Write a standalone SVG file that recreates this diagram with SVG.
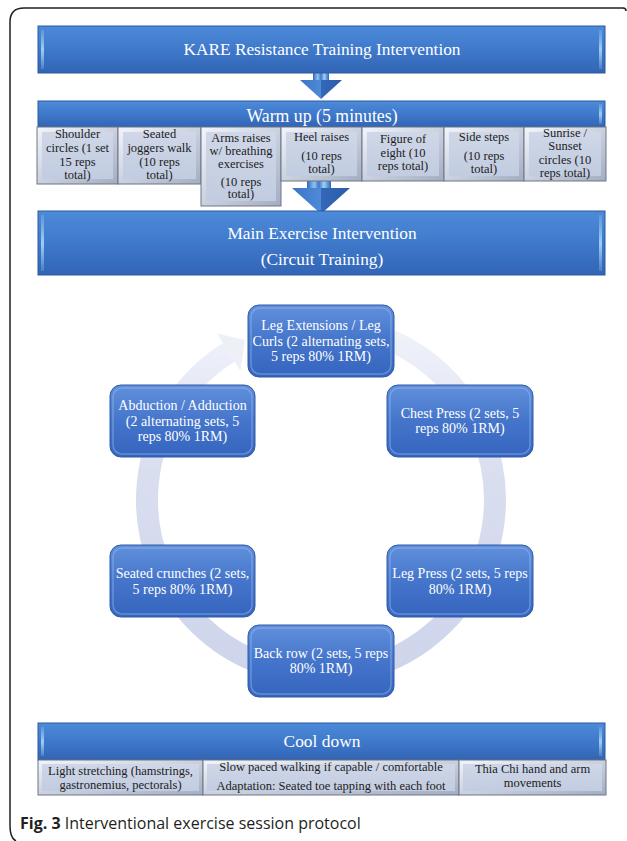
<svg xmlns="http://www.w3.org/2000/svg" width="627" height="841" viewBox="0 0 627 841">
<defs>
<linearGradient id="band" x1="0" y1="0" x2="0" y2="1">
<stop offset="0" stop-color="#4d8ad9"/><stop offset="0.5" stop-color="#3f79cb"/><stop offset="1" stop-color="#3264b4"/>
</linearGradient>
<linearGradient id="strip" x1="0" y1="0" x2="0" y2="1">
<stop offset="0" stop-color="#a8d8f8" stop-opacity="0.2"/><stop offset="0.5" stop-color="#a8d8f8" stop-opacity="0.9"/><stop offset="1" stop-color="#a8d8f8" stop-opacity="0.2"/>
</linearGradient>
<linearGradient id="node" x1="0" y1="0" x2="0" y2="1">
<stop offset="0" stop-color="#6190dc"/><stop offset="0.5" stop-color="#4575cb"/><stop offset="1" stop-color="#3464bd"/>
</linearGradient>
<linearGradient id="subOut" x1="0" y1="0" x2="1" y2="1">
<stop offset="0" stop-color="#f3f5fa"/><stop offset="1" stop-color="#a3adc2"/>
</linearGradient>
<linearGradient id="subIn" x1="0" y1="0" x2="0" y2="1">
<stop offset="0" stop-color="#cfd7e8"/><stop offset="1" stop-color="#c2cce0"/>
</linearGradient>
<linearGradient id="ring" gradientUnits="userSpaceOnUse" x1="230" y1="690" x2="235" y2="330">
<stop offset="0" stop-color="#cdd3ea"/><stop offset="0.6" stop-color="#d9deef"/><stop offset="1" stop-color="#f0f2fa"/>
</linearGradient>
<linearGradient id="arrow" x1="0" y1="0" x2="1" y2="0">
<stop offset="0" stop-color="#3b74c6"/><stop offset="0.5" stop-color="#4f8ad8"/><stop offset="0.5" stop-color="#3468b8"/><stop offset="1" stop-color="#2a5ca9"/>
</linearGradient>
<linearGradient id="shaft" x1="0" y1="0" x2="1" y2="0">
<stop offset="0" stop-color="#2f66b8"/><stop offset="0.3" stop-color="#8cc4f2"/><stop offset="0.5" stop-color="#3c78c8"/><stop offset="0.7" stop-color="#9fd0f6"/><stop offset="1" stop-color="#2f66b8"/>
</linearGradient>
<style>
.bandR{fill:url(#band);stroke:#2d5a9f;stroke-width:1}
.strip{fill:url(#strip)}
.nodeR{fill:url(#node);stroke:#2f5ba6;stroke-width:1}
.nodeHi{fill:none;stroke:#9cbcf0;stroke-opacity:0.45;stroke-width:1.5}
.subO{fill:url(#subOut);stroke:#6d7687;stroke-width:1}
.subI{fill:url(#subIn)}
.tw{font-family:"Liberation Serif","Times New Roman",serif;fill:#ffffff;text-anchor:middle}
.tb{font-family:"Liberation Serif","Times New Roman",serif;fill:#1c1c1c;text-anchor:middle;font-size:12.5px}
.big{font-size:17.3px}
.nt{font-size:14px}
.cd{font-size:12.5px}
</style>
</defs>
<rect width="627" height="841" fill="#ffffff"/>
<path d="M623 8 L24 8 Q10 8 10 22 L10 826 Q10 838 16 841 M623 8 Q626 8 626 11" fill="none" stroke="#231f20" stroke-width="1.5"/>

<g id="connectors">
<g id="arrow1">
<rect x="313" y="60" width="16" height="22" fill="url(#shaft)"/>
<polygon points="300,80 342,80 321,99" fill="url(#arrow)"/>
</g>
<g id="arrow2">
<rect x="307" y="170" width="24" height="20" fill="url(#shaft)"/>
<polygon points="292,188 350,188 321,214" fill="url(#arrow)"/>
</g>
<g id="cycle">
<path d="M366 331.9 A174 174 0 1 1 228.8 352.4" fill="none" stroke="url(#ring)" stroke-width="22"/>
<polygon points="217,333.5 245,340 240.5,371" fill="#eef0f8"/>
</g>
</g>

<g id="kare">
<rect class="bandR" x="38" y="26" width="567" height="47"/>
<rect class="strip" x="41" y="30" width="3" height="39"/>
<rect class="strip" x="599" y="30" width="3" height="39"/>
<text class="tw big" x="322" y="55">KARE Resistance Training Intervention</text>
</g>

<g id="warmup">
<rect class="bandR" x="38" y="101" width="567" height="26"/>
<rect class="strip" x="599" y="104" width="3" height="20"/>
<text class="tw" style="font-size:17.8px" x="322" y="122">Warm up (5 minutes)</text>
</g>

<g id="w1">
<rect class="subO" x="37" y="127" width="81" height="57"/>
<rect class="subI" x="42" y="132" width="71" height="47"/>
<text class="tb"><tspan x="77.5" y="138">Shoulder</tspan><tspan x="77.5" y="152">circles (1 set</tspan><tspan x="77.5" y="166">15 reps</tspan><tspan x="77.5" y="179">total)</tspan></text>
</g>
<g id="w2">
<rect class="subO" x="118" y="127" width="83" height="57"/>
<rect class="subI" x="123" y="132" width="73" height="47"/>
<text class="tb"><tspan x="159.5" y="138">Seated</tspan><tspan x="159.5" y="152">joggers walk</tspan><tspan x="159.5" y="166">(10 reps</tspan><tspan x="159.5" y="179">total)</tspan></text>
</g>
<g id="w3">
<rect class="subO" x="201" y="127" width="80" height="79"/>
<rect class="subI" x="206" y="132" width="70" height="69"/>
<text class="tb"><tspan x="241" y="141.5">Arms raises</tspan><tspan x="241" y="154.5">w/ breathing</tspan><tspan x="241" y="167.5">exercises</tspan><tspan x="241" y="185.5">(10 reps</tspan><tspan x="241" y="198">total)</tspan></text>
</g>
<g id="w4">
<rect class="subO" x="281" y="127" width="81" height="54"/>
<rect class="subI" x="286" y="132" width="71" height="44"/>
<text class="tb"><tspan x="321.5" y="140.5">Heel raises</tspan><tspan x="321.5" y="160">(10 reps</tspan><tspan x="321.5" y="172.5">total)</tspan></text>
</g>
<g id="w5">
<rect class="subO" x="362" y="127" width="82" height="54"/>
<rect class="subI" x="367" y="132" width="72" height="44"/>
<text class="tb"><tspan x="403" y="143">Figure of</tspan><tspan x="403" y="156.5">eight (10</tspan><tspan x="403" y="170">reps total)</tspan></text>
</g>
<g id="w6">
<rect class="subO" x="444" y="127" width="80" height="54"/>
<rect class="subI" x="449" y="132" width="70" height="44"/>
<text class="tb"><tspan x="484" y="140.5">Side steps</tspan><tspan x="484" y="160">(10 reps</tspan><tspan x="484" y="172.5">total)</tspan></text>
</g>
<g id="w7">
<rect class="subO" x="524" y="127" width="82" height="54"/>
<rect class="subI" x="529" y="132" width="72" height="44"/>
<text class="tb"><tspan x="565" y="136.5">Sunrise /</tspan><tspan x="565" y="150">Sunset</tspan><tspan x="565" y="163.5">circles (10</tspan><tspan x="565" y="177">reps total)</tspan></text>
</g>

<g id="main">
<rect class="bandR" x="38" y="211" width="567" height="64"/>
<rect class="strip" x="41" y="215" width="3" height="56"/>
<rect class="strip" x="599" y="215" width="3" height="56"/>
<text class="tw big" x="322" y="239">Main Exercise Intervention</text>
<text class="tw big" x="322" y="265">(Circuit Training)</text>
</g>

<g id="n-legext">
<rect class="nodeR" x="248" y="305" width="146" height="72" rx="11"/>
<rect class="nodeHi" x="251" y="308" width="140" height="66" rx="9"/>
<text class="tw nt"><tspan x="321" y="330">Leg Extensions / Leg</tspan><tspan x="321" y="345.5">Curls (2 alternating sets,</tspan><tspan x="321" y="361">5 reps 80% 1RM)</tspan></text>
</g>
<g id="n-chest">
<rect class="nodeR" x="387" y="385" width="146" height="72" rx="11"/>
<rect class="nodeHi" x="390" y="388" width="140" height="66" rx="9"/>
<text class="tw nt"><tspan x="460" y="417.5">Chest Press (2 sets, 5</tspan><tspan x="460" y="433">reps 80% 1RM)</tspan></text>
</g>
<g id="n-legpress">
<rect class="nodeR" x="387" y="545" width="146" height="72" rx="11"/>
<rect class="nodeHi" x="390" y="548" width="140" height="66" rx="9"/>
<text class="tw nt"><tspan x="460" y="578">Leg Press (2 sets, 5 reps</tspan><tspan x="460" y="593.5">80% 1RM)</tspan></text>
</g>
<g id="n-backrow">
<rect class="nodeR" x="248" y="625" width="146" height="72" rx="11"/>
<rect class="nodeHi" x="251" y="628" width="140" height="66" rx="9"/>
<text class="tw nt"><tspan x="321" y="657.5">Back row (2 sets, 5 reps</tspan><tspan x="321" y="673">80% 1RM)</tspan></text>
</g>
<g id="n-crunch">
<rect class="nodeR" x="110" y="545" width="145" height="72" rx="11"/>
<rect class="nodeHi" x="113" y="548" width="139" height="66" rx="9"/>
<text class="tw nt"><tspan x="182.5" y="578">Seated crunches (2 sets,</tspan><tspan x="182.5" y="593.5">5 reps 80% 1RM)</tspan></text>
</g>
<g id="n-abduct">
<rect class="nodeR" x="110" y="385" width="145" height="72" rx="11"/>
<rect class="nodeHi" x="113" y="388" width="139" height="66" rx="9"/>
<text class="tw nt"><tspan x="182.5" y="410">Abduction / Adduction</tspan><tspan x="182.5" y="425.5">(2 alternating sets, 5</tspan><tspan x="182.5" y="441">reps 80% 1RM)</tspan></text>
</g>

<g id="cooldown">
<rect class="bandR" x="38" y="723" width="567" height="37"/>
<rect class="strip" x="41" y="727" width="3" height="29"/>
<rect class="strip" x="599" y="727" width="3" height="29"/>
<text class="tw" style="font-size:17.4px" x="322" y="747">Cool down</text>
</g>
<g id="c1">
<rect class="subO" x="38" y="760" width="165" height="35"/>
<rect class="subI" x="42" y="764" width="157" height="27"/>
<text class="tb cd"><tspan x="120.5" y="775">Light stretching (hamstrings,</tspan><tspan x="120.5" y="789">gastronemius, pectorals)</tspan></text>
</g>
<g id="c2">
<rect class="subO" x="203" y="760" width="256" height="35"/>
<rect class="subI" x="207" y="764" width="248" height="27"/>
<text class="tb cd"><tspan x="331" y="771">Slow paced walking if capable / comfortable</tspan><tspan x="331" y="790">Adaptation: Seated toe tapping with each foot</tspan></text>
</g>
<g id="c3">
<rect class="subO" x="459" y="760" width="147" height="35"/>
<rect class="subI" x="463" y="764" width="139" height="27"/>
<text class="tb cd"><tspan x="532.5" y="773">Thia Chi hand and arm</tspan><tspan x="532.5" y="787">movements</tspan></text>
</g>

<text x="20" y="829" style="font-family:'Open Sans','Noto Sans',sans-serif;font-size:16px;fill:#231f20"><tspan font-weight="bold">Fig. 3</tspan> Interventional exercise session protocol</text>
</svg>
